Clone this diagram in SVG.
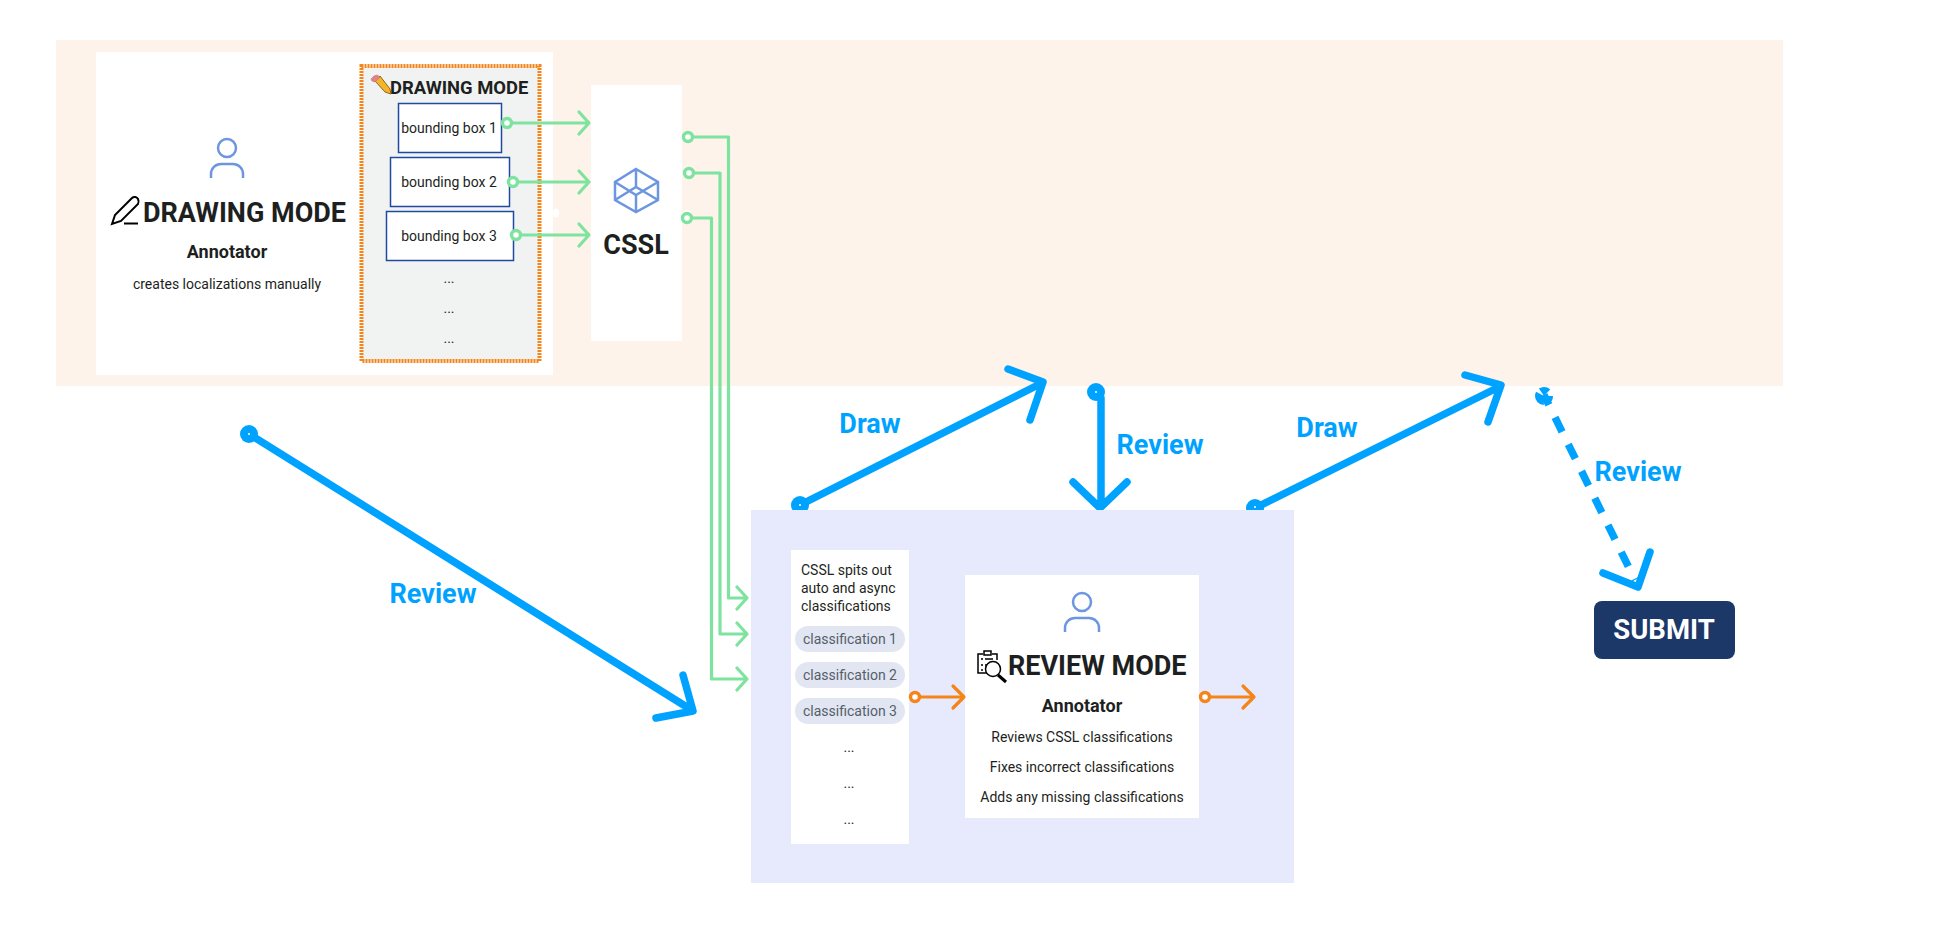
<svg xmlns="http://www.w3.org/2000/svg" width="1956" height="941" viewBox="0 0 1956 941">
<style>
text{font-family:Roboto,"Liberation Sans",sans-serif;fill:#1d1f21}
.c{text-anchor:middle}
.h1{font-size:27px;font-weight:700}
.h2{font-size:18.4px;font-weight:700}
.ann{font-size:18px;font-weight:700}
.t{font-size:14px}
.pill{fill:#e1e6f2;stroke:none}
.pt{font-size:14px;fill:#555e6b}
.lb{font-size:27px;font-weight:700;fill:#00a2ff}
.w{fill:#fff;stroke:none}
.bb{fill:#fff;stroke:#1f4aa0;stroke-width:1.5}
.ic{fill:none;stroke:#6d96e0;stroke-width:2.5}
.bl{fill:none;stroke:#00a2ff;stroke-width:7.5;stroke-linecap:round;stroke-linejoin:round}
.gr{fill:none;stroke:#7fe3a0;stroke-width:3.2;stroke-linecap:round;stroke-linejoin:round}
.or{fill:none;stroke:#f58518;stroke-width:3.2;stroke-linecap:round;stroke-linejoin:round}
.gd{fill:#fff;stroke:#7fe3a0;stroke-width:3.4}
.od{fill:#fff;stroke:#f58518;stroke-width:3.4}
.bd{fill:#00a2ff;stroke:none}
.hole{fill:#fff;stroke:none}
</style>
<defs>
<clipPath id="above"><rect x="0" y="0" width="1956" height="510"/></clipPath>
</defs>
<g id="draw-panel"><rect x="56" y="40" width="1727" height="346" fill="#fdf3ea"/></g>
<g id="annotator-drawing">
<rect class="w" x="96" y="52" width="457" height="323"/>
<ellipse class="w" cx="556" cy="213" rx="3" ry="4.500"/>
<circle class="ic" cx="227" cy="148" r="9"/>
<path class="ic" d="M211 178v-4a10 10 0 0 1 10-10h12a10 10 0 0 1 10 10v4"/>
<path d="M112 224l3-9 17-17c2-2 5-1 6 1s1 3 0 5l-17 17z M124 223.500h14" fill="none" stroke="#000" stroke-width="2"/>
<text class="h1" x="143" y="222">DRAWING MODE</text>
<text class="ann c" x="227" y="258">Annotator</text>
<text class="t c" x="227" y="289">creates localizations manually</text>
</g>
<g id="drawing-mode">
<rect x="361.500" y="66" width="178" height="295" fill="#f1f3f2" stroke="#f58518" stroke-width="4" stroke-dasharray="2 1"/>
<path d="M375 81l5-5 10 13 1 5-6-2z" fill="#f5b42a" stroke="#8a6a1a" stroke-width="1"/>
<path d="M371 79l3-3 3-1 3 2-5 5-3-1z" fill="#e8808a" stroke="#9a6a6a" stroke-width=".5"/>
<text class="h2" x="390" y="94">DRAWING MODE</text>
<rect class="bb" x="398.500" y="103.500" width="103" height="49"/>
<text class="t c" x="449" y="133">bounding box 1</text>
<rect class="bb" x="390.500" y="157.500" width="119" height="49"/>
<text class="t c" x="449" y="187">bounding box 2</text>
<rect class="bb" x="386.500" y="211.500" width="127" height="49"/>
<text class="t c" x="449" y="241">bounding box 3</text>
<text class="t c" x="449" y="283">...</text>
<text class="t c" x="449" y="313">...</text>
<text class="t c" x="449" y="343">...</text>
</g>
<g id="cssl">
<rect class="w" x="591" y="85" width="91" height="256"/>
<circle class="w" cx="687" cy="215" r="5"/>
<path class="ic" d="M636 169L658 182V200L636 212L615 200V182ZM615 182L636 195L658 182M636 195V212M615 200L636 187L658 200M636 187V169"/>
<text class="h1 c" x="636" y="254">CSSL</text>
</g>
<g id="review-panel"><rect x="751" y="510" width="543" height="373" fill="#e7eafd"/></g>
<g id="classifications">
<rect class="w" x="791" y="550" width="118" height="294"/>
<text class="t" x="801" y="575">CSSL spits out</text>
<text class="t" x="801" y="593">auto and async</text>
<text class="t" x="801" y="611">classifications</text>
<rect class="pill" x="795" y="626" width="110" height="26" rx="13"/>
<text class="pt c" x="850" y="644">classification 1</text>
<rect class="pill" x="795" y="662" width="110" height="26" rx="13"/>
<text class="pt c" x="850" y="680">classification 2</text>
<rect class="pill" x="795" y="698" width="110" height="26" rx="13"/>
<text class="pt c" x="850" y="716">classification 3</text>
<text class="t c" x="849" y="752">...</text>
<text class="t c" x="849" y="788">...</text>
<text class="t c" x="849" y="824">...</text>
</g>
<g id="annotator-review">
<rect class="w" x="965" y="575" width="234" height="243"/>
<circle class="ic" cx="1082" cy="602" r="9"/>
<path class="ic" d="M1065 632v-4a10 10 0 0 1 10-10h14a10 10 0 0 1 10 10v4"/>
<g fill="none" stroke="#000" stroke-width="1.500">
<path d="M983 654h-5v19h12M992 654h5v6"/>
<rect x="984" y="651" width="7" height="4"/>
<path d="M981 659h2M985 659h8M981 665h2M985 665h2M981 670h2M985 670h2"/>
<circle cx="993" cy="669" r="7.500" fill="#fff"/>
<path d="M998 675l8 7" stroke-width="3"/>
</g>
<text class="h1" x="1008" y="675">REVIEW MODE</text>
<text class="ann c" x="1082" y="712">Annotator</text>
<text class="t c" x="1082" y="742">Reviews CSSL classifications</text>
<text class="t c" x="1082" y="772">Fixes incorrect classifications</text>
<text class="t c" x="1082" y="802">Adds any missing classifications</text>
</g>
<g id="submit">
<rect x="1594" y="601" width="141" height="58" rx="8" fill="#1c3869"/>
<text class="c" x="1664" y="639" style="font-size:27.500px;font-weight:700;fill:#fff">SUBMIT</text>
</g>
<g id="connectors">
<path class="gr" d="M510 123H589M579 112l10 11-10 11"/>
<circle class="gd" cx="507" cy="123" r="4.500"/>
<path class="gr" d="M517 182H589M579 171l10 11-10 11"/>
<circle class="gd" cx="513" cy="182" r="4.500"/>
<path class="gr" d="M520 235H589M579 224l10 11-10 11"/>
<circle class="gd" cx="516" cy="235" r="4.500"/>
<path class="gr" d="M692 137H728.500V598H747M737 587l10 11-10 11"/>
<circle class="gd" cx="688" cy="137" r="4.500"/>
<path class="gr" d="M693 173H720V634H747M737 623l10 11-10 11"/>
<circle class="gd" cx="689" cy="173" r="4.500"/>
<path class="gr" d="M691 218H711.500V679H747M737 668l10 11-10 11"/>
<circle class="gd" cx="687" cy="218" r="4.500"/>
<path class="or" d="M919 697H964M953 686l11 11-11 11"/>
<circle class="od" cx="915" cy="697" r="4.500"/>
<path class="or" d="M1209 697H1254M1243 686l11 11-11 11"/>
<circle class="od" cx="1205" cy="697" r="4.500"/>
<g id="blue-review-1">
<path class="bl" d="M249 434L690 709M683 675l10 36-37 7"/>
<circle class="bd" cx="249" cy="434" r="9"/>
<circle class="hole" cx="249" cy="434" r="1"/>
</g>
<g clip-path="url(#above)">
<path class="bl" d="M800 505L1040 384M1008 369l35 13-13 38"/>
<circle class="bd" cx="800" cy="505" r="9"/>
<circle class="hole" cx="800" cy="505" r="1"/>
<path class="bl" d="M1101 398V506M1073 482l27 26 27-26"/>
<circle class="bd" cx="1096" cy="392" r="9"/>
<circle class="hole" cx="1096" cy="392" r="1"/>
<path class="bl" d="M1255 508L1499 387M1465 375l36 10-13 37"/>
<circle class="bd" cx="1255" cy="508" r="9"/>
<circle class="hole" cx="1255" cy="507" r="1"/>
</g>
<circle cx="1544" cy="396" r="4.500" fill="none" stroke="#00a2ff" stroke-width="9" stroke-dasharray="5 2 9 2 6 4"/>
<path class="bl" d="M1544 395L1635 580" stroke-dasharray="16 14" stroke-dashoffset="5" style="stroke-linecap:butt"/>
<path class="bl" d="M1603 573l35 14 12-35"/>
</g>
<g id="labels">
<text class="lb c" x="433" y="603">Review</text>
<text class="lb c" x="870" y="433">Draw</text>
<text class="lb c" x="1160" y="454">Review</text>
<text class="lb c" x="1327" y="437">Draw</text>
<text class="lb c" x="1638" y="481">Review</text>
</g>
</svg>
